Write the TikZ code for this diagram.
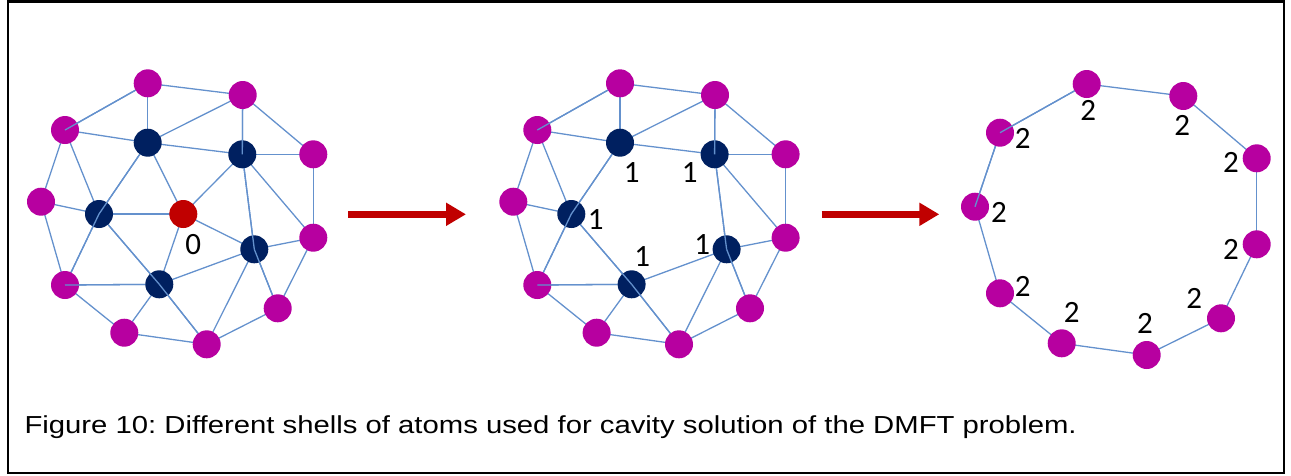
\documentclass[tikz,border=0pt]{standalone}
\usepackage{fontspec}
\setmainfont{Liberation Sans}
\newfontfamily\digitfont{Carlito}
\usetikzlibrary{arrows.meta,backgrounds}
\frenchspacing

\definecolor{atomMag}{RGB}{183,0,160}
\definecolor{atomNavy}{RGB}{0,32,96}
\definecolor{atomRed}{RGB}{192,0,0}
\definecolor{bondBlue}{RGB}{100,145,205}
\definecolor{arrowRed}{RGB}{192,0,0}

\tikzset{
  atom/.style={circle, minimum size=28pt, inner sep=0pt, draw=none},
  mag/.style={atom, fill=atomMag},
  navy/.style={atom, fill=atomNavy},
  centre/.style={atom, fill=atomRed},
  bond/.style={draw=bondBlue, line width=1.3pt},
  shelllabel/.style={inner sep=0pt, font=\digitfont\fontsize{31}{33}\selectfont},
  stepArrow/.style={draw=arrowRed, line width=6.5pt,
    -{Triangle[length=20pt,width=22pt]}},
}

\begin{document}
\begin{tikzpicture}[x=1pt,y=-1pt]
\useasboundingbox (0,0) rectangle (1291,475);
\draw[line width=2.6pt] (8,1.3) rectangle (1284,473);

% two copies of the cluster: outer (magenta) and inner (navy) shells
\foreach \p/\dx in {1/0,2/472.3}{
  \begin{scope}[xshift=\dx pt]
    \node[mag]  (p\p-t)  at (147.7,83.3)  {};
    \node[mag]  (p\p-tr) at (242.7,95)    {};
    \node[mag]  (p\p-lu) at (65,130)      {};
    \node[mag]  (p\p-ru) at (313.3,154.3) {};
    \node[mag]  (p\p-l)  at (41,201.7)    {};
    \node[mag]  (p\p-rl) at (313.3,237.7) {};
    \node[mag]  (p\p-ll) at (65,285)      {};
    \node[mag]  (p\p-br) at (277.7,308.3) {};
    \node[mag]  (p\p-bl) at (124.3,332.7) {};
    \node[mag]  (p\p-b)  at (206.7,344.3) {};
    \node[navy] (p\p-A)  at (147.7,142.7) {};
    \node[navy] (p\p-B)  at (242.3,154.3) {};
    \node[navy] (p\p-C)  at (99,214)      {};
    \node[navy] (p\p-D)  at (254.3,249.3) {};
    \node[navy] (p\p-E)  at (159.3,284.3) {};
  \end{scope}
  \begin{pgfonlayer}{background}
    \foreach \a/\b in {t/tr,t/lu,t/A,tr/A,tr/B,tr/ru,lu/A,lu/C,lu/l,A/B,A/C,
                       B/ru,B/D,B/rl,ru/rl,l/C,l/ll,C/ll,C/E,D/rl,D/E,D/br,D/b,
                       rl/br,ll/E,ll/bl,E/bl,E/b,bl/b,b/br}
      \draw[bond] (p\p-\a.center) -- (p\p-\b.center);
  \end{pgfonlayer}
  % bonds that run over an atom
  \draw[bond] (p\p-lu.center) -- (p\p-t);
  \draw[bond] (p\p-ll.center) -- (p\p-E);
  \draw[bond] (p\p-C.center) -- (p\p-A);
  \draw[bond] (p\p-C.center) -- (p\p-ll);
  \draw[bond] (p\p-E.center) -- (p\p-C);
  \draw[bond] (p\p-E.center) -- (p\p-b);
  \draw[bond] (p\p-D.center) -- (p\p-B);
  \draw[bond] (p\p-D.center) -- (p\p-br);
  \draw[bond] (p\p-B.center) -- (p\p-tr);
}

% central atom of the first cluster
\node[centre] (p1-R) at (183.3,214) {};
\begin{pgfonlayer}{background}
  \foreach \b in {A,B,C,D,E}
    \draw[bond] (p1-R.center) -- (p1-\b.center);
\end{pgfonlayer}
\node[shelllabel] (lab0) at (193.3,245) {0};

% first shell labels
\node[shelllabel] (lab1A) at ([shift={(11.7,29.5)}]p2-A) {1};
\node[shelllabel] (lab1B) at ([shift={(-25,18)}]p2-B) {1};
\node[shelllabel] (lab1C) at ([shift={(24.3,5.5)}]p2-C) {1};
\node[shelllabel] (lab1E) at ([shift={(10.6,-27.6)}]p2-E) {1};
\node[shelllabel] (lab1D) at ([shift={(-24.4,-4.3)}]p2-D) {1};

% outer ring only
\node[mag] (q-t)  at (1086.7,84)    {};
\node[mag] (q-tr) at (1183.3,96)    {};
\node[mag] (q-ru) at (1256.7,158.3) {};
\node[mag] (q-rl) at (1256.7,244.3) {};
\node[mag] (q-br) at (1221,318.3)   {};
\node[mag] (q-b)  at (1146.7,355)   {};
\node[mag] (q-bl) at (1061.7,343.3) {};
\node[mag] (q-ll) at (1000,293.3)   {};
\node[mag] (q-l)  at (975,206.7)    {};
\node[mag] (q-lu) at (1000,132.7)   {};
\begin{pgfonlayer}{background}
  \foreach \a/\b in {t/tr,tr/ru,ru/rl,rl/br,br/b,b/bl,bl/ll,ll/l,l/lu,lu/t}
    \draw[bond] (q-\a.center) -- (q-\b.center);
\end{pgfonlayer}
\draw[bond] (q-lu.center) -- (q-t);
\draw[bond] (q-l.center) -- (q-lu);

\foreach \n/\sx/\sy in {t/1.6/26, tr/-1/29, lu/22.7/5.6, ru/-25.7/4.4,
                         l/24/5.3, rl/-25.7/5, ll/22.7/-6.6, br/-26.7/-20,
                         bl/10/-31, b/-1.7/-31.7}
  \node[shelllabel] (lab2\n) at ([shift={(\sx,\sy)}]q-\n) {2};

% step arrows
\coordinate (arrA1) at (348.3,214.3);
\coordinate (arrA2) at (466,214.3);
\coordinate (arrB1) at (821.7,214.3);
\coordinate (arrB2) at (939.3,214.3);
\draw[stepArrow] (arrA1) -- (arrA2);
\draw[stepArrow] (arrB1) -- (arrB2);

\node[anchor=base west, inner sep=0pt, xscale=1.19,
      font=\fontsize{24.6}{29}\selectfont]
  (caption) at (24.3,433.3)
  {Figure 10: Different shells of atoms used for cavity solution of the DMFT problem.};
\end{tikzpicture}
\end{document}
